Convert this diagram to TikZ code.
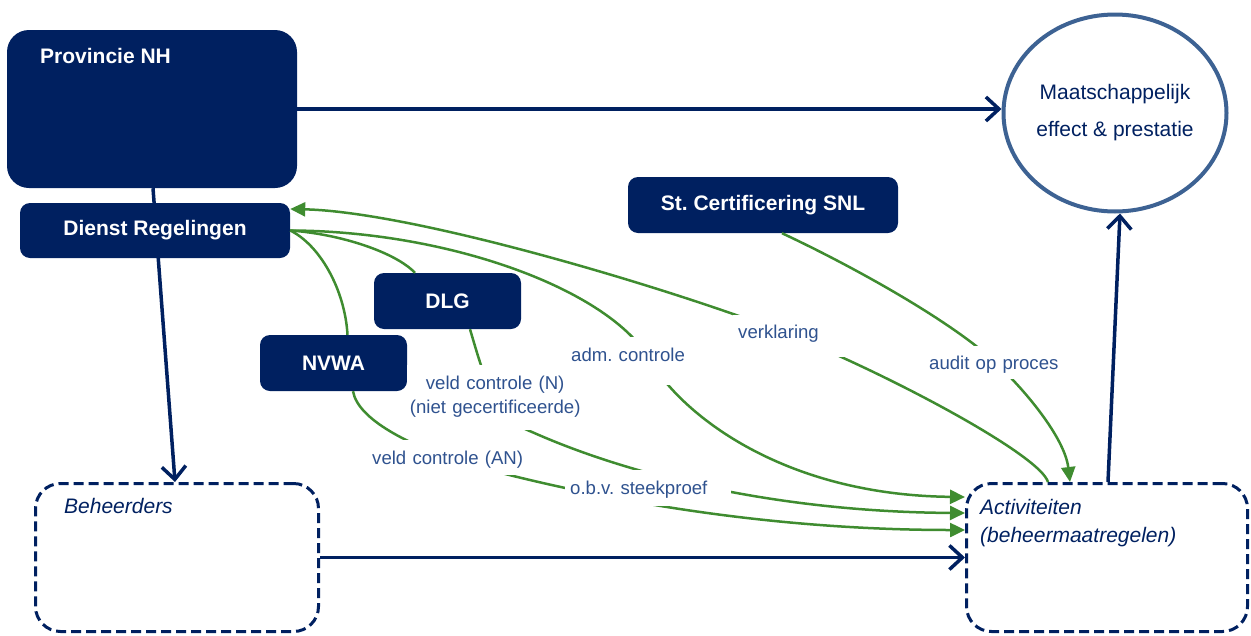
\documentclass[tikz,border=0pt]{standalone}
\usepackage{fontspec}
\setmainfont{Liberation Sans}
\usetikzlibrary{arrows.meta,shapes.geometric}
\definecolor{navy}{HTML}{002060}
\definecolor{lblue}{HTML}{2F528F}
\definecolor{circblue}{HTML}{3D6293}
\definecolor{ggreen}{HTML}{3F8C30}
\newcommand{\bigbold}{\bfseries\fontsize{21}{25}\selectfont}
\frenchspacing
\begin{document}
\begin{tikzpicture}[x=1pt,y=-1pt,
  bluebox/.style={fill=navy, text=white, inner sep=0pt, rounded corners=10pt, font=\bigbold},
  dashbox/.style={draw=navy, line width=3pt, dash pattern=on 10pt off 5pt, rounded corners=25pt, minimum height=148pt, inner sep=0pt},
  navyarrow/.style={draw=navy, line width=3.5pt, -{Straight Barb[length=13pt,width=24pt]}},
  gline/.style={draw=ggreen, line width=2.5pt},
  garrow/.style={gline, -{Triangle[length=15pt,width=14pt]}},
  lbl/.style={fill=white, font=\frenchspacing\fontsize{18.6}{24}\selectfont, text=lblue, anchor=north west, inner ysep=0pt, inner xsep=5pt, align=left}]
\useasboundingbox (0,0) rectangle (1251,635);

% main boxes
\node[bluebox, minimum width=290pt, minimum height=158pt, rounded corners=22pt] (prov) at (152,109) {};
\node[anchor=base west, text=white, font=\bigbold, inner sep=0pt] (provtxt) at (40,63) {Provincie NH};
\node[dashbox, minimum width=283pt] (beh) at (177,557.5) {};
\node[dashbox, minimum width=281pt] (act) at (1107,557.5) {};
\node[draw=circblue, line width=4pt, ellipse, minimum width=223pt, minimum height=197pt, inner sep=0pt] (circ) at (1115,113) {};
\node[align=center, font=\fontsize{21}{37}\selectfont, text=navy, inner sep=0pt] (circtxt) at (circ.center) {Maatschappelijk\\effect \& prestatie};
\node[anchor=base west, font=\itshape\fontsize{21}{25}\selectfont, text=navy, inner sep=0pt] (behtxt) at (64,513) {Beheerders};
\node[anchor=west, align=left, font=\itshape\fontsize{21}{28}\selectfont, text=navy, inner sep=0pt] (acttxt) at (980,523.5) {Activiteiten\\(beheermaatregelen)};

% line from Provincie to Beheerders (behind Dienst Regelingen)
\draw[navyarrow] ([xshift=1pt]prov.south) -- ([xshift=-2pt]beh.north);

\node[bluebox, minimum width=270pt, minimum height=55pt] (dr) at (155,230.5) {Dienst Regelingen};
\node[bluebox, minimum width=270pt, minimum height=56pt] (snl) at (763,205) {St. Certificering SNL};
\node[bluebox, minimum width=147pt, minimum height=56pt] (dlg) at (447.5,301) {DLG};
\node[bluebox, minimum width=147pt, minimum height=56pt] (nvwa) at (333.5,363) {NVWA};

% navy arrows
\draw[navyarrow] (prov.east) -- (prov.east -| circ.west);
\draw[navyarrow] (beh.east) -- (act.west);
\draw[navyarrow] ([xshift=1pt]act.north) -- ([xshift=5pt]circ.south);

% green connectors
\draw[garrow] ([xshift=-59pt]act.north) .. controls (1040,455) and (890,375) .. (790,335)
  .. controls (690,295) and (420,212) .. ([yshift=21.5pt]dr.east);
\draw[garrow] (dr.east) .. controls (450,231) and (610,290) .. (650,360)
  .. controls (680,412) and (780,495) .. ([yshift=60.5pt]act.west);
\draw[gline] (dr.east) .. controls (340,234) and (395,252) .. ([xshift=-32.5pt]dlg.north);
\draw[gline] (dr.east) .. controls (320,245) and (345,290) .. ([xshift=14pt]nvwa.north);
\draw[garrow] ([xshift=22.5pt]dlg.south) .. controls (485,380) and (495,418) .. (532,432)
  .. controls (640,480) and (790,512) .. ([yshift=44.5pt]act.west);
\draw[garrow] ([xshift=19.5pt]nvwa.south) .. controls (358,420) and (410,445) .. (460,462)
  .. controls (560,490) and (740,530) .. ([yshift=27.5pt]act.west);
\draw[garrow] ([xshift=19pt]snl.south) .. controls (850,265) and (950,320) .. (995,362)
  .. controls (1030,395) and (1065,440) .. ([xshift=-37pt]act.north);

% labels
\node[lbl, text width=107pt, text height=23pt, text depth=19pt] (lverk) at (733,315) {verklaring};
\node[lbl, text width=120pt, text height=24pt, text depth=24pt] (ladm) at (566,337) {adm. controle};
\node[lbl, inner xsep=0pt, text width=176pt, align=center, text height=24pt, text depth=41pt] (lN) at (407,365) {veld controle (N)\\(niet gecertificeerde)};
\node[lbl, text width=155pt, text height=24pt, text depth=11pt] (lAN) at (367,440) {veld controle (AN)};
\node[lbl, text width=156pt, text height=24pt, text depth=12pt] (lobv) at (565,470) {o.b.v. steekproef};
\node[lbl, text width=135pt, text height=23pt, text depth=10pt] (laud) at (924,346) {audit op proces};
\end{tikzpicture}
\end{document}
